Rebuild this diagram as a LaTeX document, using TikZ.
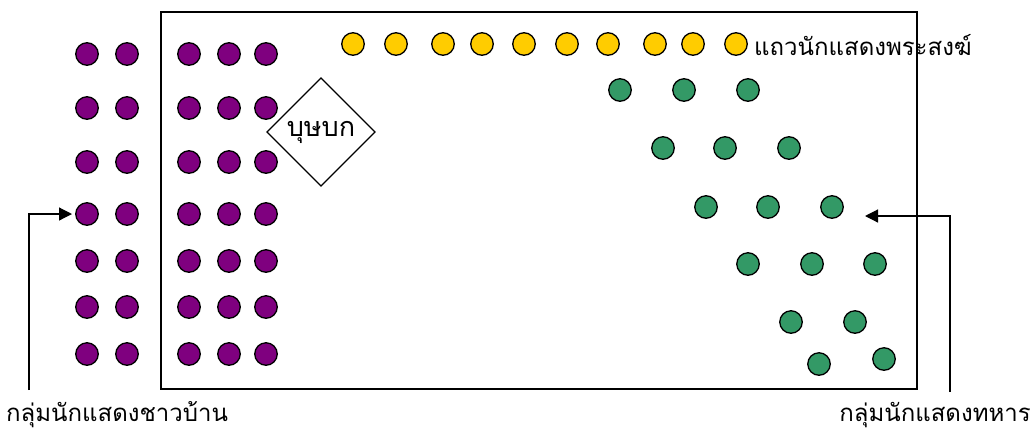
\documentclass[tikz,border=0pt]{standalone}
\usepackage{fontspec}
\newfontfamily\thaifont[Script=Thai]{Loma}
\usetikzlibrary{shapes.geometric,arrows.meta}
\definecolor{ppl}{HTML}{7F007F}
\definecolor{ylw}{HTML}{FFCC00}
\definecolor{grn}{HTML}{339966}
\tikzset{
  dot/.style={circle,draw=black,line width=1.3pt,minimum size=22.5pt,inner sep=0pt},
  pdot/.style={dot,fill=ppl},
  ydot/.style={dot,fill=ylw},
  gdot/.style={dot,fill=grn},
  lbl/.style={font=\thaifont\fontsize{24}{26}\selectfont,inner sep=0pt},
  conn/.style={line width=1.2pt,-{Triangle[length=13pt,width=13pt]}}
}
\begin{document}
\begin{tikzpicture}[x=1pt,y=-1pt]
\useasboundingbox (0,0) rectangle (1035,432);
\draw[line width=1.2pt] (161,12) rectangle (917,389);
% purple
\foreach \r/\y in {1/54,2/108,3/162,4/214,5/261,6/307,7/354}{
  \foreach \c/\x in {1/87,2/127,3/189,4/229,5/266}{
    \node[pdot] (p-\r-\c) at (\x,\y) {};
  }
}
% yellow
\foreach \i/\x in {1/353,2/396,3/443,4/482,5/524,6/567,7/608,8/655,9/693,10/736}{
  \node[ydot] (y-\i) at (\x,44) {};
}
\node[lbl,anchor=west] (ylab) at (754,45) {แถวนักแสดงพระสงฆ์};
% green
\node[gdot] (g-1-1) at (620,90) {};
\node[gdot] (g-1-2) at (684,90) {};
\node[gdot] (g-1-3) at (748,90) {};
\node[gdot] (g-2-1) at (663,148) {};
\node[gdot] (g-2-2) at (725,148) {};
\node[gdot] (g-2-3) at (789,148) {};
\node[gdot] (g-3-1) at (706,207) {};
\node[gdot] (g-3-2) at (768,207) {};
\node[gdot] (g-3-3) at (832,207) {};
\node[gdot] (g-4-1) at (748,264) {};
\node[gdot] (g-4-2) at (812,264) {};
\node[gdot] (g-4-3) at (875,264) {};
\node[gdot] (g-5-1) at (791,322) {};
\node[gdot] (g-5-2) at (855,322) {};
\node[gdot] (g-6-1) at (819,364) {};
\node[gdot] (g-6-2) at (884,359) {};
% diamond
\draw[line width=1.2pt,fill=white] (321,78) -- (375,132) -- (321,186) -- (267,132) -- cycle;
\node[lbl,font=\thaifont\fontsize{27}{29}\selectfont] (bus) at (321,132) {บุษบก};
% labels
\node[lbl,anchor=base west] (vlab) at (6,421) {กลุ่มนักแสดงชาวบ้าน};
\node[lbl,anchor=base east] (slab) at (1031,421) {กลุ่มนักแสดงทหาร};
% arrows
\coordinate (la) at (29,390);
\coordinate (lt) at (72,214);
\draw[conn] (la) |- (lt);
\coordinate (ra) at (950,392);
\coordinate (rt) at (865,216);
\draw[conn] (ra) |- (rt);
\end{tikzpicture}
\end{document}
